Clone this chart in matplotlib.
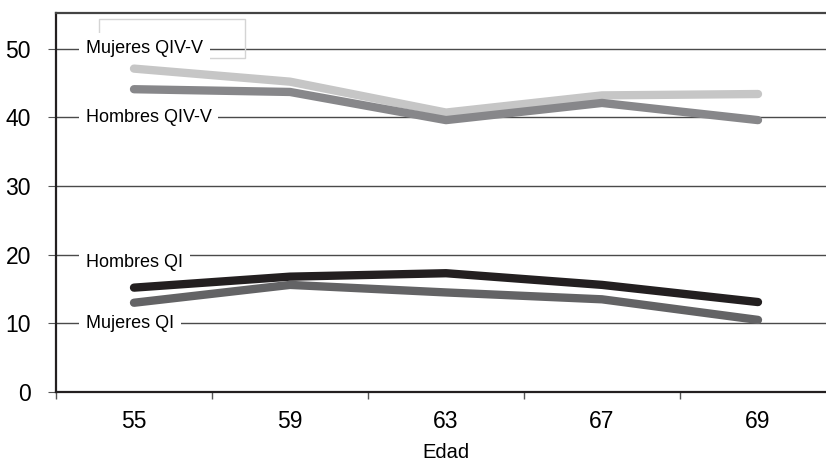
import matplotlib.pyplot as plt
from matplotlib.patches import Rectangle

plt.rcParams['font.family'] = ['Liberation Sans', 'DejaVu Sans']

edades = ['55', '59', '63', '67', '69']
mujeres_qiv = [47.1, 45.2, 40.7, 43.2, 43.4]
hombres_qiv = [44.1, 43.7, 39.6, 42.1, 39.6]
hombres_qi = [15.2, 16.8, 17.3, 15.6, 13.1]
mujeres_qi = [13.0, 15.6, 14.5, 13.5, 10.5]

series = [
    ('Mujeres QIV-V', mujeres_qiv, '#c6c6c6', 50.0),
    ('Hombres QIV-V', hombres_qiv, '#87878a', 40.0),
    ('Hombres QI', hombres_qi, '#231f20', 18.9),
    ('Mujeres QI', mujeres_qi, '#636365', 10.0),
]

fig = plt.figure(figsize=(8.26, 4.62), dpi=100)
ax = fig.add_axes([56 / 826, 70 / 462, 780 / 826, 379 / 462])

x = list(range(len(edades)))
for nombre, vals, color, ylab in series:
    ax.plot(x, vals, color=color, lw=6, solid_capstyle='round',
            solid_joinstyle='round', zorder=3)
    ax.text(-0.31, ylab, nombre, fontsize=13, ha='left', va='center', zorder=5,
            bbox=dict(facecolor='white', edgecolor='none', pad=5))

# empty legend frame left in the original
ax.add_patch(Rectangle((-0.224, 48.6), 0.936, 5.7, fill=False,
                       edgecolor='#d4d4d4', lw=1, zorder=1))

ax.set_xlim(-0.5, 4.5)
ax.set_ylim(0, 55.2)
ax.set_yticks([0, 10, 20, 30, 40, 50])
ax.yaxis.grid(True, color='#4a4a4a', lw=1)
ax.set_axisbelow(True)

ax.set_xticks(x)
ax.set_xticklabels(edades)
ax.set_xticks([-0.5, 0.5, 1.5, 2.5, 3.5, 4.5], minor=True)
ax.tick_params(axis='x', which='major', length=0, labelsize=16.5, pad=13)
ax.tick_params(axis='x', which='minor', length=5, color='#555555', width=1)
ax.tick_params(axis='y', length=6, color='#555555', labelsize=16.5, pad=12)

for s in ['left', 'bottom', 'top']:
    ax.spines[s].set_color('#231f20')
    ax.spines[s].set_linewidth(1.6)
ax.spines['top'].set_color('#444444')
ax.spines['right'].set_visible(False)

ax.set_xlabel('Edad', fontsize=14.5, labelpad=7)

fig.savefig('out.png', dpi=100)
